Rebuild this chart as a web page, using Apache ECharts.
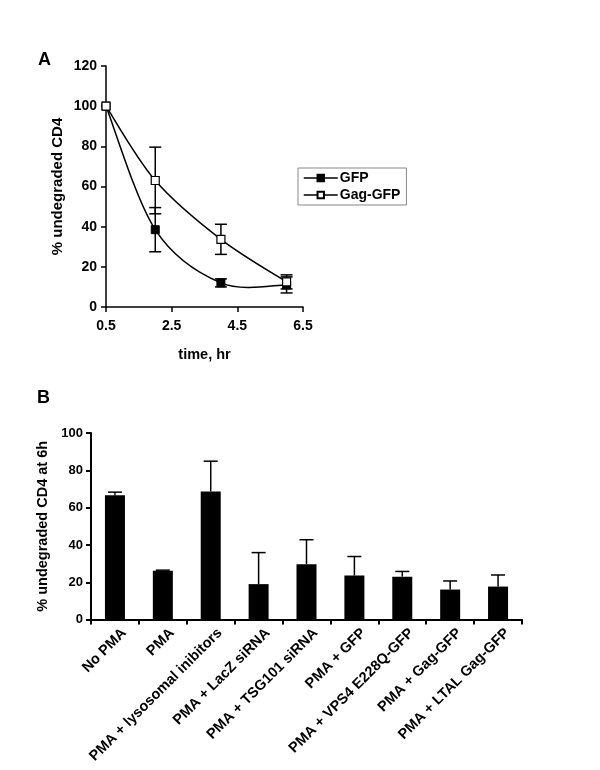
<!DOCTYPE html>
<html>
<head>
<meta charset="utf-8">
<script src="https://cdn.jsdelivr.net/npm/echarts@6/dist/echarts.min.js"></script>
<style>
html,body{margin:0;padding:0;background:#fff;}
#main{width:600px;height:770px;}
</style>
</head>
<body>
<div id="main"></div>
<script>
// ---- Panel A data ----
var timePoints = [0.5, 2, 4, 6];
var gfpValues = [100, 38.5, 12, 11];
var gfpErrors = [0, 11, 2, 4];
var gagValues = [100, 63, 33.7, 12.5];
var gagErrors = [0, 16.6, 7.5, 3.5];
var xTicksA = [0.5, 2.5, 4.5, 6.5];

// ---- Panel B data ----
var categoriesB = ['No PMA', 'PMA', 'PMA + lysosomal inibitors', 'PMA + LacZ siRNA', 'PMA + TSG101 siRNA',
  'PMA + GFP', 'PMA + VPS4 E228Q-GFP', 'PMA + Gag-GFP', 'PMA + LTAL Gag-GFP'];
var barValues = [66.7, 26.2, 68.7, 19, 29.7, 23.6, 23, 16.1, 17.7];
var barErrors = [1.6, 0.3, 16.2, 16.9, 13.1, 10.2, 2.8, 4.6, 6.2];

var FONT = 'Liberation Sans, Arial, sans-serif';

function pairs(xs, ys){ return xs.map(function(x,i){ return [x, ys[i]]; }); }
function errData(xs, ys, es){ return xs.map(function(x,i){ return [x, ys[i]-es[i], ys[i]+es[i]]; }); }

function errRender(capHalf, lw){
  return function(params, api){
    var x = api.value(0), lo = api.value(1), hi = api.value(2);
    if (hi - lo <= 0) return null;
    var pLo = api.coord([x, lo]), pHi = api.coord([x, hi]);
    var st = {stroke:'#000', lineWidth:lw};
    return {type:'group', children:[
      {type:'line', shape:{x1:pLo[0], y1:pLo[1], x2:pHi[0], y2:pHi[1]}, style:st},
      {type:'line', shape:{x1:pHi[0]-capHalf, y1:pHi[1], x2:pHi[0]+capHalf, y2:pHi[1]}, style:st},
      {type:'line', shape:{x1:pLo[0]-capHalf, y1:pLo[1], x2:pLo[0]+capHalf, y2:pLo[1]}, style:st}
    ]};
  };
}

// Smooth (Catmull-Rom style, like spreadsheet smoothed lines) curve through the data points,
// positioned through the axis scales with api.coord.
function curveRender(xs, ys){
  return function(params, api){
    if (params.dataIndex !== 0) return null;
    var P = xs.map(function(x,i){ return api.coord([x, ys[i]]); });
    var n = P.length, d = 'M' + P[0][0] + ' ' + P[0][1];
    for (var i = 0; i < n - 1; i++) {
      var p0 = P[Math.max(i-1,0)], p1 = P[i], p2 = P[i+1], p3 = P[Math.min(i+2,n-1)];
      var c1x = p1[0] + (p2[0]-p0[0])/6, c1y = p1[1] + (p2[1]-p0[1])/6;
      var c2x = p2[0] - (p3[0]-p1[0])/6, c2y = p2[1] - (p3[1]-p1[1])/6;
      d += ' C' + c1x + ' ' + c1y + ' ' + c2x + ' ' + c2y + ' ' + p2[0] + ' ' + p2[1];
    }
    return {type:'path', shape:{pathData:d}, style:{stroke:'#000', lineWidth:1.5, fill:null}};
  };
}

var barErrData = categoriesB.map(function(c,i){ return [i, barValues[i], barValues[i]+barErrors[i]]; });

var axisLabelA = {color:'#000', fontFamily:FONT, fontWeight:'bold', fontSize:14};
var axisLabelB = {color:'#000', fontFamily:FONT, fontWeight:'bold', fontSize:13};

var chart = echarts.init(document.getElementById('main'), null, {renderer:'canvas'});
chart.setOption({
  animation:false,
  backgroundColor:'#fff',
  graphic:[
    {type:'text', left:38, top:51, style:{text:'A', font:'bold 18px '+FONT, fill:'#000'}},
    {type:'text', left:37, top:389, style:{text:'B', font:'bold 18px '+FONT, fill:'#000'}}
  ],
  legend:{
    show:true, left:298, top:168, orient:'vertical',
    data:[
      {name:'GFP', lineStyle:{color:'#000', width:1.5, opacity:1}},
      {name:'Gag-GFP', lineStyle:{color:'#000', width:1.5, opacity:1}}
    ],
    borderColor:'#888', borderWidth:1, padding:[3,6,3,5],
    itemWidth:34, itemHeight:8, itemGap:3,
    textStyle:{color:'#000', fontFamily:FONT, fontWeight:'bold', fontSize:14, padding:[0,0,0,-3]}
  },
  grid:[
    {left:106, top:66, width:197, height:241},
    {left:91, top:433, width:431, height:189}
  ],
  xAxis:[
    {type:'value', gridIndex:0, min:0.5, max:6.5, interval:2,
     name:'time, hr', nameLocation:'middle', nameGap:40,
     nameTextStyle:{color:'#000', fontFamily:FONT, fontWeight:'bold', fontSize:14.5},
     axisLine:{lineStyle:{color:'#000', width:1.5}},
     axisTick:{show:true, length:5, lineStyle:{color:'#000', width:1.5}},
     axisLabel:Object.assign({margin:12, formatter:function(v){ return v.toFixed(1); }}, axisLabelA),
     splitLine:{show:false}},
    {type:'category', gridIndex:1, data:categoriesB,
     axisLine:{lineStyle:{color:'#000', width:2}},
     axisTick:{show:true, length:5, alignWithLabel:false, lineStyle:{color:'#000', width:2}},
     axisLabel:Object.assign({rotate:45, interval:0, margin:2}, axisLabelB,
       {fontSize:14.5, verticalAlign:'top', lineHeight:26})}
  ],
  yAxis:[
    {type:'value', gridIndex:0, min:0, max:120, interval:20,
     name:'% undegraded CD4', nameLocation:'middle', nameGap:41,
     nameTextStyle:{color:'#000', fontFamily:FONT, fontWeight:'bold', fontSize:15},
     axisLine:{show:true, lineStyle:{color:'#000', width:1.5}},
     axisTick:{show:true, length:5, lineStyle:{color:'#000', width:1.5}},
     axisLabel:Object.assign({margin:9}, axisLabelA),
     splitLine:{show:false}},
    {type:'value', gridIndex:1, min:0, max:100, interval:20,
     name:'% undegraded CD4 at 6h', nameLocation:'middle', nameGap:35,
     nameTextStyle:{color:'#000', fontFamily:FONT, fontWeight:'bold', fontSize:14.5},
     axisLine:{show:true, lineStyle:{color:'#000', width:2}},
     axisTick:{show:true, length:5, lineStyle:{color:'#000', width:2}},
     axisLabel:Object.assign({margin:8}, axisLabelB),
     splitLine:{show:false}}
  ],
  series:[
    {type:'custom', xAxisIndex:0, yAxisIndex:0, renderItem:curveRender(timePoints, gfpValues),
     data:pairs(timePoints, gfpValues), z:2, silent:true},
    {type:'custom', xAxisIndex:0, yAxisIndex:0, renderItem:curveRender(timePoints, gagValues),
     data:pairs(timePoints, gagValues), z:2, silent:true},
    {name:'GFP', type:'line', xAxisIndex:0, yAxisIndex:0, data:pairs(timePoints, gfpValues),
     symbol:'rect', symbolSize:8,
     lineStyle:{color:'#000', width:1.5, opacity:0}, itemStyle:{color:'#000', borderColor:'#000', borderWidth:1}, z:4},
    {name:'Gag-GFP', type:'line', xAxisIndex:0, yAxisIndex:0, data:pairs(timePoints, gagValues),
     symbol:'rect', symbolSize:8,
     lineStyle:{color:'#000', width:1.5, opacity:0}, itemStyle:{color:'#fff', borderColor:'#000', borderWidth:1.2}, z:4},
    {type:'custom', xAxisIndex:0, yAxisIndex:0, renderItem:errRender(6, 1.5),
     data:errData(timePoints, gfpValues, gfpErrors), z:2, silent:true},
    {type:'custom', xAxisIndex:0, yAxisIndex:0, renderItem:errRender(6, 1.5),
     data:errData(timePoints, gagValues, gagErrors), z:2, silent:true},
    {type:'bar', xAxisIndex:1, yAxisIndex:1, data:barValues, barWidth:20,
     itemStyle:{color:'#000'}, z:2},
    {type:'custom', xAxisIndex:1, yAxisIndex:1, silent:true, z:1,
     renderItem:function(params, api){
       var i = api.value(0), lo = api.value(1), hi = api.value(2);
       var pLo = api.coord([i, lo]), pHi = api.coord([i, hi]);
       var st = {stroke:'#000', lineWidth:1.5};
       return {type:'group', children:[
         {type:'line', shape:{x1:pLo[0], y1:pLo[1], x2:pHi[0], y2:pHi[1]}, style:st},
         {type:'line', shape:{x1:pHi[0]-7, y1:pHi[1], x2:pHi[0]+7, y2:pHi[1]}, style:st}
       ]};
     },
     data:barErrData}
  ]
});
</script>
</body>
</html>
